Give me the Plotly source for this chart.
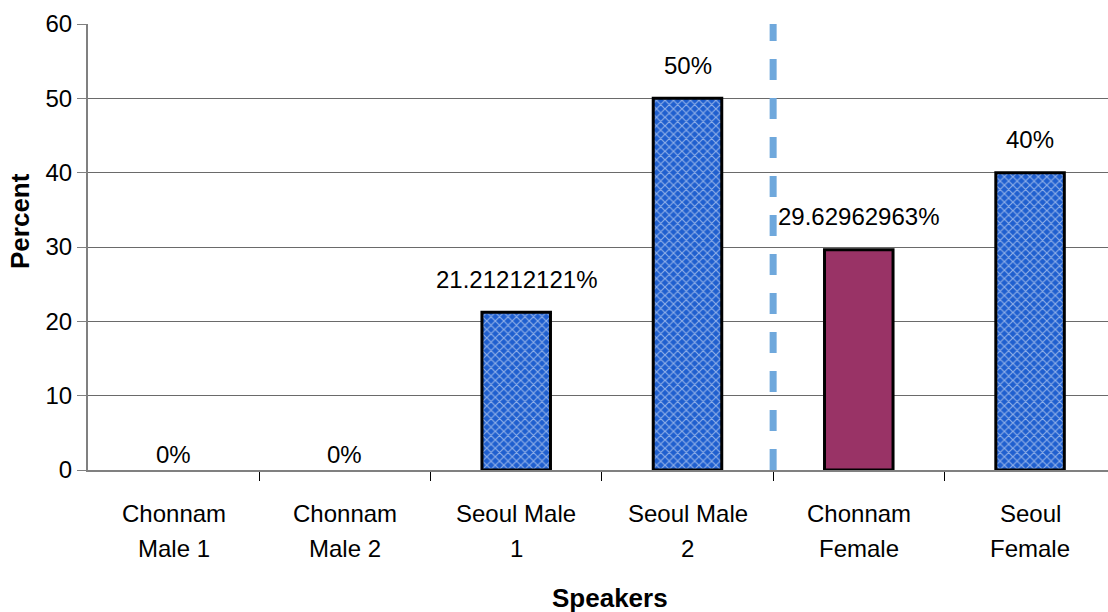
import plotly.graph_objects as go

categories = ["Chonnam\nMale 1", "Chonnam\nMale 2", "Seoul Male\n1", "Seoul Male\n2", "Chonnam\nFemale", "Seoul\nFemale"]
values = [0, 0, 21.21212121, 50, 29.62962963, 40]
value_labels = ["0%", "0%", "21.21212121%", "50%", "29.62962963%", "40%"]
y_ticks = [0, 10, 20, 30, 40, 50, 60]

FONT = "Liberation Sans, Arial, sans-serif"
BLUE = "#1f5fcf"
MAROON = "#993366"

x = list(range(len(categories)))
is_plain = [c == "Chonnam\nFemale" for c in categories]

fig = go.Figure()
fig.add_trace(go.Bar(
    x=x, y=values, width=0.4,
    marker=dict(
        color=[MAROON if p else BLUE for p in is_plain],
        line=dict(color="black", width=[0 if v == 0 else 3 for v in values]),
        pattern=dict(
            shape=["" if p else "x" for p in is_plain],
            fgcolor="#d2e2ff", size=6, solidity=0.35, fillmode="overlay",
        ),
    ),
    hoverinfo="skip",
))

annotations = []
for xi, v, lab in zip(x, values, value_labels):
    annotations.append(dict(x=xi, y=v, xref="x", yref="y", text=lab, showarrow=False,
                            yanchor="middle", yshift=16 if v == 0 else 33,
                            font=dict(family=FONT, size=24, color="black")))
for xi, c in zip(x, categories):
    l1, l2 = c.split("\n")
    annotations.append(dict(x=xi, y=0, xref="x", yref="y", text=l1, showarrow=False,
                            yanchor="middle", yshift=-43, font=dict(family=FONT, size=24, color="black")))
    annotations.append(dict(x=xi, y=0, xref="x", yref="y", text=l2, showarrow=False,
                            yanchor="middle", yshift=-78, font=dict(family=FONT, size=24, color="black")))
annotations.append(dict(x=610, y=598, xref="paper", yref="paper", text="<b>Speakers</b>", showarrow=False,
                        font=dict(family=FONT, size=26, color="black")))
annotations.append(dict(x=20, y=221, xref="paper", yref="paper", text="<b>Percent</b>", showarrow=False,
                        textangle=-90, font=dict(family=FONT, size=26, color="black")))

W, H = 1108, 612
ML, MR, MT, MB = 88, 0, 24, 142
for a in annotations[-2:]:
    a["x"] = (a["x"] - ML) / (W - ML - MR)
    a["y"] = (H - MB - a["y"]) / (H - MT - MB)
    a["xanchor"] = "center"
    a["yanchor"] = "middle"

fig.update_layout(
    width=W, height=H,
    margin=dict(l=ML, r=MR, t=MT, b=MB, pad=0),
    plot_bgcolor="white", paper_bgcolor="white",
    showlegend=False,
    annotations=annotations,
    shapes=[dict(type="line", xref="x", yref="paper", x0=3.5, x1=3.5, y0=0, y1=1,
                 line=dict(color="#6fa8dc", width=7, dash="21px,18px"), layer="above")],
)
fig.update_xaxes(
    range=[-0.5, 5.455], showgrid=False, zeroline=False,
    showline=True, linecolor="#808080", linewidth=2,
    tickmode="array", tickvals=[i - 0.5 for i in range(1, 6)], ticktext=[""] * 5,
    ticks="outside", ticklen=9, tickcolor="black", tickwidth=1,
)
fig.update_yaxes(
    range=[0, 60], tickmode="array", tickvals=y_ticks,
    showgrid=True, gridcolor="#6a6a6a", gridwidth=1, zeroline=False,
    showline=True, linecolor="#808080", linewidth=2,
    ticks="outside", ticklen=9, tickcolor="#808080",
    tickfont=dict(family=FONT, size=24, color="black"),
)
fig.write_html("out.html", config={"displayModeBar": False},
               post_script="document.body.style.margin='0';document.body.style.overflow='hidden';")
